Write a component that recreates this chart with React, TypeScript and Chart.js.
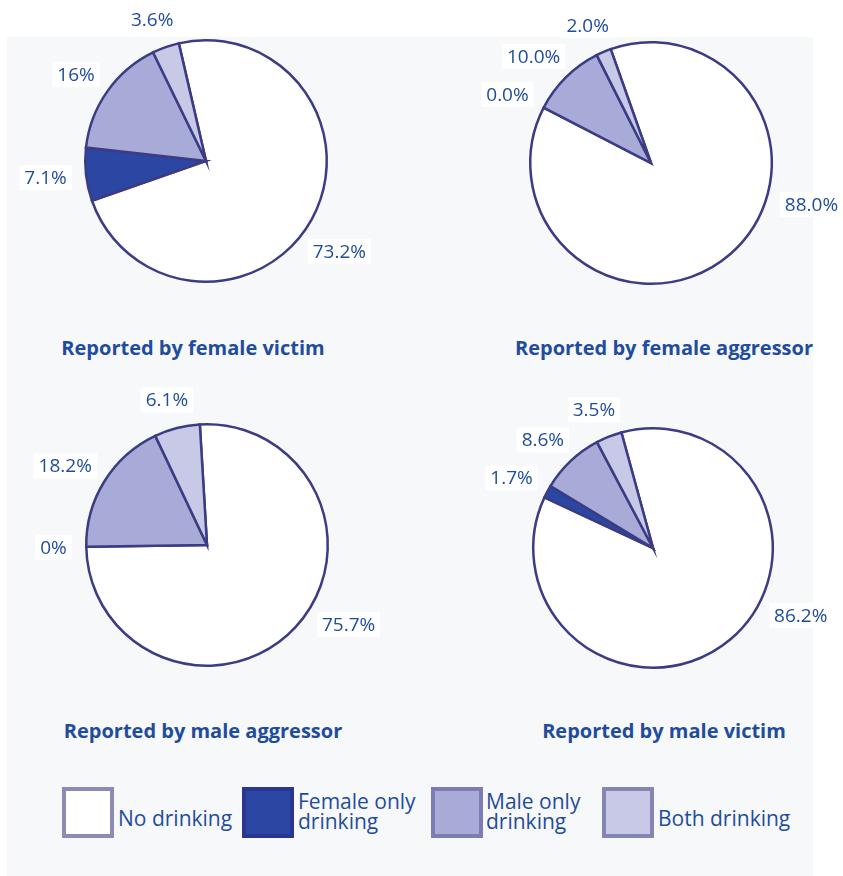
import React, { useEffect, useRef } from 'react';
import { Chart, registerables } from 'chart.js';

Chart.register(...registerables);

// ---------- data ----------
const categories = ['No drinking', 'Female only drinking', 'Male only drinking', 'Both drinking'];
const legendLines = [['No drinking'], ['Female only', 'drinking'], ['Male only', 'drinking'], ['Both drinking']];

const femaleVictimValues = [73.2, 7.1, 16, 3.6];
const femaleVictimLabels = ['73.2%', '7.1%', '16%', '3.6%'];

const femaleAggressorValues = [88.0, 0.0, 10.0, 2.0];
const femaleAggressorLabels = ['88.0%', '0.0%', '10.0%', '2.0%'];

const maleAggressorValues = [75.7, 0, 18.2, 6.1];
const maleAggressorLabels = ['75.7%', '0%', '18.2%', '6.1%'];

const maleVictimValues = [86.2, 1.7, 8.6, 3.5];
const maleVictimLabels = ['86.2%', '1.7%', '8.6%', '3.5%'];

const chartTitles = [
  'Reported by female victim',
  'Reported by female aggressor',
  'Reported by male aggressor',
  'Reported by male victim',
];

// ---------- styles ----------
const TEXT = '#1f4c9d';
const OUTLINE = '#3b3c84';
const sliceColors = ['#ffffff', '#2b47a3', '#a8abd7', '#c7c9e6'];
const legendBorders = ['#8d8bb6', '#2b3690', '#7e7cb3', '#8684b3'];

const layouts = [
  { qx: 0, qy: 0, w: 420, h: 320, cx: 206, cy: 161, r: 122, rotation: -13, mainAngle: 127, tx: 193, ty: 348 },
  { qx: 420, qy: 0, w: 423, h: 320, cx: 651, cy: 163, r: 122, rotation: -19.5, mainAngle: 106, tx: 664, ty: 348 },
  { qx: 0, qy: 380, w: 420, h: 320, cx: 207, cy: 545, r: 122, rotation: -3.4, mainAngle: 122, tx: 203, ty: 731 },
  { qx: 420, qy: 380, w: 423, h: 320, cx: 653, cy: 548, r: 121, rotation: -15.3, mainAngle: 117, tx: 664, ty: 731 },
];

const pieData = [
  { values: femaleVictimValues, labels: femaleVictimLabels, title: chartTitles[0] },
  { values: femaleAggressorValues, labels: femaleAggressorLabels, title: chartTitles[1] },
  { values: maleAggressorValues, labels: maleAggressorLabels, title: chartTitles[2] },
  { values: maleVictimValues, labels: maleVictimLabels, title: chartTitles[3] },
];

const sliceLabelPlugin = {
  id: 'sliceLabels',
  afterDatasetsDraw(chart: any, _args: any, opts: any) {
    const { ctx } = chart;
    const meta = chart.getDatasetMeta(0);
    ctx.save();
    ctx.font = opts.font;
    ctx.textAlign = 'center';
    ctx.textBaseline = 'middle';
    meta.data.forEach((arc: any, i: number) => {
      const p = arc.getProps(['x', 'y', 'startAngle', 'endAngle', 'outerRadius'], true);
      const span = p.endAngle - p.startAngle;
      let a = (p.startAngle + p.endAngle) / 2;
      if (span > Math.PI) a = ((opts.mainAngle - 90) * Math.PI) / 180;
      const ux = Math.cos(a);
      const uy = Math.sin(a);
      const R = (p.outerRadius + 1.25) * 1.15;
      const text = opts.labels[i];
      const w = ctx.measureText(text).width;
      const h = 19;
      const bx = p.x + ux * R + (ux * w) / 2;
      const by = p.y + uy * R + (uy * h) / 2;
      ctx.fillStyle = '#ffffff';
      ctx.fillRect(bx - w / 2 - 5, by - h / 2 - 3, w + 10, h + 6);
      ctx.fillStyle = opts.color;
      ctx.fillText(text, bx, by + 1);
    });
    ctx.restore();
  },
};

function Pie({ idx }: { idx: number }) {
  const ref = useRef<HTMLCanvasElement | null>(null);
  const L = layouts[idx];
  const D = pieData[idx];
  useEffect(() => {
    if (!ref.current) return;
    const left = L.cx - L.r - L.qx;
    const top = L.cy - L.r - L.qy;
    const right = L.w - (L.cx + L.r - L.qx);
    const bottom = L.h - (L.cy + L.r - L.qy);
    const chart = new Chart(ref.current, {
      type: 'pie',
      data: {
        labels: categories,
        datasets: [
          {
            data: D.values,
            backgroundColor: sliceColors,
            borderColor: OUTLINE,
            borderWidth: 2.5,
            hoverOffset: 0,
            borderJoinStyle: 'miter',
          } as any,
        ],
      },
      options: {
        responsive: false,
        animation: false,
        events: [],
        rotation: L.rotation,
        layout: { padding: { left, top, right, bottom } },
        plugins: {
          legend: { display: false },
          tooltip: { enabled: false },
          sliceLabels: {
            labels: D.labels,
            mainAngle: L.mainAngle,
            font: '19px "Open Sans", "Noto Sans", sans-serif',
            color: TEXT,
          },
        } as any,
      },
      plugins: [sliceLabelPlugin as any],
    });
    return () => chart.destroy();
  }, []);
  return (
    <canvas
      ref={ref}
      width={L.w}
      height={L.h}
      style={{ position: 'absolute', left: L.qx, top: L.qy, width: L.w, height: L.h }}
    />
  );
}

export default function App() {
  const legendX = [62, 242, 431, 602];
  const textX = [118, 298, 486, 658];
  return (
    <div
      style={{
        position: 'fixed',
        left: 0,
        top: 0,
        width: 843,
        height: 876,
        background: '#ffffff',
        fontFamily: '"Open Sans", "Noto Sans", sans-serif',
        color: TEXT,
        overflow: 'hidden',
      }}
    >
      <div style={{ position: 'absolute', left: 7, top: 37, width: 806, height: 839, background: '#f7f8fa' }} />
      {layouts.map((_, i) => (
        <Pie key={i} idx={i} />
      ))}
      {layouts.map((L, i) => (
        <div
          key={'t' + i}
          style={{
            position: 'absolute',
            left: L.tx,
            top: L.ty,
            transform: 'translate(-50%, -50%)',
            whiteSpace: 'nowrap',
            fontWeight: 700,
            fontSize: 20,
            lineHeight: '24px',
          }}
        >
          {pieData[i].title}
        </div>
      ))}
      {categories.map((c, i) => (
        <React.Fragment key={'l' + i}>
          <div
            title={c}
            style={{
              position: 'absolute',
              left: legendX[i],
              top: 787,
              width: 52,
              height: 51,
              boxSizing: 'border-box',
              background: sliceColors[i],
              border: `4px solid ${legendBorders[i]}`,
            }}
          />
          <div
            style={{
              position: 'absolute',
              left: textX[i],
              top: legendLines[i].length === 1 ? 808 : 791,
              fontSize: 21,
              lineHeight: '20px',
              whiteSpace: 'nowrap',
            }}
          >
            {legendLines[i].map((t, k) => (
              <div key={k}>{t}</div>
            ))}
          </div>
        </React.Fragment>
      ))}
    </div>
  );
}
